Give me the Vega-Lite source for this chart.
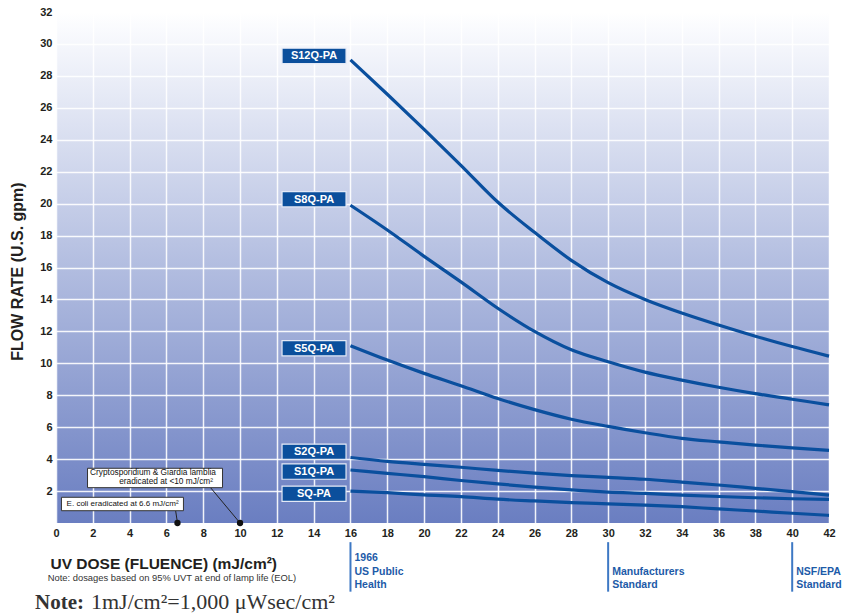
{
  "$schema": "https://vega.github.io/schema/vega-lite/v6.json",
  "width": 773,
  "height": 511,
  "autosize": {"type": "none"},
  "padding": {"left": 56, "top": 12, "right": 16, "bottom": 90},
  "background": "white",
  "config": {
    "font": "Liberation Sans",
    "view": {
      "stroke": null,
      "fill": {"gradient": "linear", "x1": 0, "y1": 0, "x2": 0, "y2": 1,
        "stops": [
          {"offset": 0, "color": "#ffffff"},
          {"offset": 0.03, "color": "#fafbfe"},
          {"offset": 0.5, "color": "#b2bde0"},
          {"offset": 1, "color": "#6a7ec1"}
        ]}
    }
  },
  "datasets": {
    "curves": [
      {"series": "S12Q-PA", "dose": 16, "flow": 29.0}, {"series": "S12Q-PA", "dose": 18, "flow": 26.85}, {"series": "S12Q-PA", "dose": 20, "flow": 24.65}, {"series": "S12Q-PA", "dose": 22, "flow": 22.4}, {"series": "S12Q-PA", "dose": 24, "flow": 20.1}, {"series": "S12Q-PA", "dose": 26, "flow": 18.2}, {"series": "S12Q-PA", "dose": 28, "flow": 16.45}, {"series": "S12Q-PA", "dose": 30, "flow": 15.05}, {"series": "S12Q-PA", "dose": 32, "flow": 14.0}, {"series": "S12Q-PA", "dose": 34, "flow": 13.15}, {"series": "S12Q-PA", "dose": 36, "flow": 12.4}, {"series": "S12Q-PA", "dose": 38, "flow": 11.7}, {"series": "S12Q-PA", "dose": 40, "flow": 11.05}, {"series": "S12Q-PA", "dose": 42, "flow": 10.45},
      {"series": "S8Q-PA", "dose": 16, "flow": 19.9}, {"series": "S8Q-PA", "dose": 18, "flow": 18.35}, {"series": "S8Q-PA", "dose": 20, "flow": 16.7}, {"series": "S8Q-PA", "dose": 22, "flow": 15.1}, {"series": "S8Q-PA", "dose": 24, "flow": 13.45}, {"series": "S8Q-PA", "dose": 26, "flow": 12.0}, {"series": "S8Q-PA", "dose": 28, "flow": 10.85}, {"series": "S8Q-PA", "dose": 30, "flow": 10.1}, {"series": "S8Q-PA", "dose": 32, "flow": 9.45}, {"series": "S8Q-PA", "dose": 34, "flow": 8.95}, {"series": "S8Q-PA", "dose": 36, "flow": 8.5}, {"series": "S8Q-PA", "dose": 38, "flow": 8.1}, {"series": "S8Q-PA", "dose": 40, "flow": 7.75}, {"series": "S8Q-PA", "dose": 42, "flow": 7.4},
      {"series": "S5Q-PA", "dose": 16, "flow": 11.1}, {"series": "S5Q-PA", "dose": 18, "flow": 10.2}, {"series": "S5Q-PA", "dose": 20, "flow": 9.37}, {"series": "S5Q-PA", "dose": 22, "flow": 8.6}, {"series": "S5Q-PA", "dose": 24, "flow": 7.8}, {"series": "S5Q-PA", "dose": 26, "flow": 7.1}, {"series": "S5Q-PA", "dose": 28, "flow": 6.5}, {"series": "S5Q-PA", "dose": 30, "flow": 6.05}, {"series": "S5Q-PA", "dose": 32, "flow": 5.65}, {"series": "S5Q-PA", "dose": 34, "flow": 5.3}, {"series": "S5Q-PA", "dose": 36, "flow": 5.08}, {"series": "S5Q-PA", "dose": 38, "flow": 4.88}, {"series": "S5Q-PA", "dose": 40, "flow": 4.7}, {"series": "S5Q-PA", "dose": 42, "flow": 4.55},
      {"series": "S2Q-PA", "dose": 16, "flow": 4.1}, {"series": "S2Q-PA", "dose": 18, "flow": 3.86}, {"series": "S2Q-PA", "dose": 20, "flow": 3.67}, {"series": "S2Q-PA", "dose": 22, "flow": 3.49}, {"series": "S2Q-PA", "dose": 24, "flow": 3.29}, {"series": "S2Q-PA", "dose": 26, "flow": 3.12}, {"series": "S2Q-PA", "dose": 28, "flow": 2.97}, {"series": "S2Q-PA", "dose": 30, "flow": 2.86}, {"series": "S2Q-PA", "dose": 32, "flow": 2.74}, {"series": "S2Q-PA", "dose": 34, "flow": 2.56}, {"series": "S2Q-PA", "dose": 36, "flow": 2.38}, {"series": "S2Q-PA", "dose": 38, "flow": 2.17}, {"series": "S2Q-PA", "dose": 40, "flow": 1.96}, {"series": "S2Q-PA", "dose": 42, "flow": 1.75},
      {"series": "S1Q-PA", "dose": 16, "flow": 3.32}, {"series": "S1Q-PA", "dose": 18, "flow": 3.11}, {"series": "S1Q-PA", "dose": 20, "flow": 2.9}, {"series": "S1Q-PA", "dose": 22, "flow": 2.66}, {"series": "S1Q-PA", "dose": 24, "flow": 2.45}, {"series": "S1Q-PA", "dose": 26, "flow": 2.25}, {"series": "S1Q-PA", "dose": 28, "flow": 2.07}, {"series": "S1Q-PA", "dose": 30, "flow": 1.93}, {"series": "S1Q-PA", "dose": 32, "flow": 1.85}, {"series": "S1Q-PA", "dose": 34, "flow": 1.75}, {"series": "S1Q-PA", "dose": 36, "flow": 1.66}, {"series": "S1Q-PA", "dose": 38, "flow": 1.58}, {"series": "S1Q-PA", "dose": 40, "flow": 1.52}, {"series": "S1Q-PA", "dose": 42, "flow": 1.48},
      {"series": "SQ-PA", "dose": 16, "flow": 2.0}, {"series": "SQ-PA", "dose": 18, "flow": 1.9}, {"series": "SQ-PA", "dose": 20, "flow": 1.76}, {"series": "SQ-PA", "dose": 22, "flow": 1.65}, {"series": "SQ-PA", "dose": 24, "flow": 1.49}, {"series": "SQ-PA", "dose": 26, "flow": 1.38}, {"series": "SQ-PA", "dose": 28, "flow": 1.28}, {"series": "SQ-PA", "dose": 30, "flow": 1.2}, {"series": "SQ-PA", "dose": 32, "flow": 1.12}, {"series": "SQ-PA", "dose": 34, "flow": 1.02}, {"series": "SQ-PA", "dose": 36, "flow": 0.88}, {"series": "SQ-PA", "dose": 38, "flow": 0.75}, {"series": "SQ-PA", "dose": 40, "flow": 0.61}, {"series": "SQ-PA", "dose": 42, "flow": 0.48}
    ],
    "labels": [
      {"series": "S12Q-PA", "flow": 29.25},
      {"series": "S8Q-PA", "flow": 20.27},
      {"series": "S5Q-PA", "flow": 10.94},
      {"series": "S2Q-PA", "flow": 4.46},
      {"series": "S1Q-PA", "flow": 3.22},
      {"series": "SQ-PA", "flow": 1.83}
    ],
    "eradication": [
      {"organism": "E. coli", "dose": 6.6},
      {"organism": "Cryptosporidium & Giardia lamblia", "dose": 10}
    ],
    "standards": [
      {"dose": 16, "label": "1966\nUS Public\nHealth"},
      {"dose": 30, "label": "\nManufacturers\nStandard"},
      {"dose": 40, "label": "\nNSF/EPA\nStandard"}
    ],
    "one": [{}]
  },
  "layer": [
    {
      "data": {"name": "curves"},
      "mark": {"type": "line", "interpolate": "monotone", "color": "#0a4f9e", "strokeWidth": 3.2},
      "encoding": {
        "x": {
          "field": "dose", "type": "quantitative",
          "scale": {"domain": [0, 42], "nice": false, "zero": false},
          "axis": {
            "values": [0, 2, 4, 6, 8, 10, 12, 14, 16, 18, 20, 22, 24, 26, 28, 30, 32, 34, 36, 38, 40, 42],
            "tickCount": 60,
            "format": "d",
            "labelOverlap": false,
            "title": "UV DOSE (FLUENCE) (mJ/cm²)",
            "titleFontSize": 15.5, "titleFontWeight": "bold", "titleColor": "#231f20",
            "titleAnchor": "start", "titleAlign": "left", "titleBaseline": "middle",
            "titleX": -6, "titleY": 40,
            "labelFontSize": 11, "labelFontWeight": "bold", "labelColor": "#231f20",
            "labelPadding": 4, "labelFlush": false, "ticks": false, "domain": false,
            "grid": true, "gridColor": "#ffffff", "gridWidth": 1.5, "gridOpacity": 0.9
          }
        },
        "y": {
          "field": "flow", "type": "quantitative",
          "scale": {"domain": [0, 32], "nice": false, "zero": false},
          "axis": {
            "values": [2, 4, 6, 8, 10, 12, 14, 16, 18, 20, 22, 24, 26, 28, 30, 32],
            "tickCount": 60,
            "format": "d",
            "labelOverlap": false,
            "title": "FLOW RATE (U.S. gpm)",
            "titleFontSize": 16, "titleFontWeight": "bold", "titleColor": "#231f20",
            "titleAngle": 270, "titleAlign": "center", "titleBaseline": "middle",
            "titleX": -38.5, "titleY": 259,
            "labelFontSize": 11, "labelFontWeight": "bold", "labelColor": "#231f20",
            "labelPadding": 4, "ticks": false, "domain": false,
            "grid": true, "gridColor": "#ffffff", "gridWidth": 1.5, "gridOpacity": 0.9
          }
        },
        "detail": {"field": "series"}
      }
    },
    {
      "data": {"name": "labels"},
      "mark": {"type": "point", "shape": "M-1,-0.239H1V0.239H-1Z", "size": 4096, "filled": true, "fill": "#0b4f9c", "fillOpacity": 1, "opacity": 1, "stroke": "#e3e9f6", "strokeWidth": 1.2},
      "encoding": {
        "x": {"datum": 14.02, "type": "quantitative"},
        "y": {"field": "flow", "type": "quantitative"}
      }
    },
    {
      "data": {"name": "labels"},
      "mark": {"type": "text", "color": "#ffffff", "fontSize": 11, "fontWeight": "bold", "align": "center", "baseline": "middle", "dy": 0.5},
      "encoding": {
        "x": {"datum": 14.02, "type": "quantitative"},
        "y": {"field": "flow", "type": "quantitative"},
        "text": {"field": "series"}
      }
    },
    {
      "data": {"name": "one"},
      "mark": {"type": "rule", "color": "#222222", "strokeWidth": 1},
      "encoding": {
        "x": {"datum": 8.4, "type": "quantitative"},
        "y": {"datum": 2.21, "type": "quantitative"},
        "x2": {"datum": 10},
        "y2": {"datum": 0}
      }
    },
    {
      "data": {"name": "one"},
      "mark": {"type": "rule", "color": "#222222", "strokeWidth": 1},
      "encoding": {
        "x": {"datum": 6.5, "type": "quantitative"},
        "y": {"datum": 0.77, "type": "quantitative"},
        "x2": {"datum": 6.6},
        "y2": {"datum": 0}
      }
    },
    {
      "data": {"name": "eradication"},
      "mark": {"type": "point", "shape": "circle", "size": 40, "filled": true, "color": "#111111", "opacity": 1},
      "encoding": {
        "x": {"field": "dose", "type": "quantitative"},
        "y": {"datum": 0, "type": "quantitative"}
      }
    },
    {
      "data": {"name": "one"},
      "mark": {"type": "point", "shape": "M-1,-0.1437H1V0.1437H-1Z", "size": 18225, "filled": true, "fill": "#ffffff", "fillOpacity": 1, "opacity": 1, "stroke": "#333333", "strokeWidth": 1},
      "encoding": {
        "x": {"datum": 5.38, "type": "quantitative"},
        "y": {"datum": 2.82, "type": "quantitative"}
      }
    },
    {
      "data": {"name": "one"},
      "mark": {"type": "point", "shape": "M-1,-0.11H1V0.11H-1Z", "size": 14884, "filled": true, "fill": "#ffffff", "fillOpacity": 1, "opacity": 1, "stroke": "#333333", "strokeWidth": 1},
      "encoding": {
        "x": {"datum": 3.61, "type": "quantitative"},
        "y": {"datum": 1.19, "type": "quantitative"}
      }
    },
    {
      "data": {"name": "one"},
      "mark": {"type": "text", "fontSize": 8.3, "color": "#111111", "align": "center", "baseline": "middle"},
      "encoding": {
        "x": {"datum": 5.27, "type": "quantitative"},
        "y": {"datum": 3.11, "type": "quantitative"},
        "text": {"value": "Cryptosporidium  &  Giardia lamblia"}
      }
    },
    {
      "data": {"name": "one"},
      "mark": {"type": "text", "fontSize": 8.3, "color": "#111111", "align": "center", "baseline": "middle"},
      "encoding": {
        "x": {"datum": 5.98, "type": "quantitative"},
        "y": {"datum": 2.55, "type": "quantitative"},
        "text": {"value": "eradicated at <10 mJ/cm²"}
      }
    },
    {
      "data": {"name": "one"},
      "mark": {"type": "text", "fontSize": 8, "color": "#111111", "align": "center", "baseline": "middle"},
      "encoding": {
        "x": {"datum": 3.62, "type": "quantitative"},
        "y": {"datum": 1.19, "type": "quantitative"},
        "text": {"value": "E. coli eradicated at 6.6 mJ/cm²"}
      }
    },
    {
      "data": {"name": "standards"},
      "mark": {"type": "rule", "color": "#3d78c4", "strokeWidth": 2},
      "encoding": {
        "x": {"field": "dose", "type": "quantitative"},
        "y": {"datum": -1.2, "type": "quantitative"},
        "y2": {"datum": -4.3}
      }
    },
    {
      "data": {"name": "standards"},
      "mark": {"type": "text", "color": "#1d5ba8", "fontSize": 10.5, "fontWeight": "bold", "align": "left", "baseline": "top", "lineBreak": "\n", "lineHeight": 13.5, "dx": 4},
      "encoding": {
        "x": {"field": "dose", "type": "quantitative"},
        "y": {"datum": -1.88, "type": "quantitative"},
        "text": {"field": "label"}
      }
    },
    {
      "data": {"name": "one"},
      "mark": {"type": "text", "fontSize": 9.4, "color": "#333333", "align": "left", "baseline": "middle"},
      "encoding": {
        "x": {"datum": -0.45, "type": "quantitative"},
        "y": {"datum": -3.46, "type": "quantitative"},
        "text": {"value": "Note: dosages based on 95% UVT at end of lamp life (EOL)"}
      }
    },
    {
      "data": {"name": "one"},
      "mark": {"type": "text", "font": "Liberation Serif", "fontSize": 21, "fontWeight": "bold", "color": "#333333", "align": "left", "baseline": "alphabetic"},
      "encoding": {
        "x": {"datum": -1.14, "type": "quantitative"},
        "y": {"datum": -5.39, "type": "quantitative"},
        "text": {"value": "Note:"}
      }
    },
    {
      "data": {"name": "one"},
      "mark": {"type": "text", "font": "Liberation Serif", "fontSize": 22, "color": "#333333", "align": "left", "baseline": "alphabetic"},
      "encoding": {
        "x": {"datum": 1.9, "type": "quantitative"},
        "y": {"datum": -5.39, "type": "quantitative"},
        "text": {"value": "1mJ/cm²=1,000 μWsec/cm²"}
      }
    }
  ]
}
